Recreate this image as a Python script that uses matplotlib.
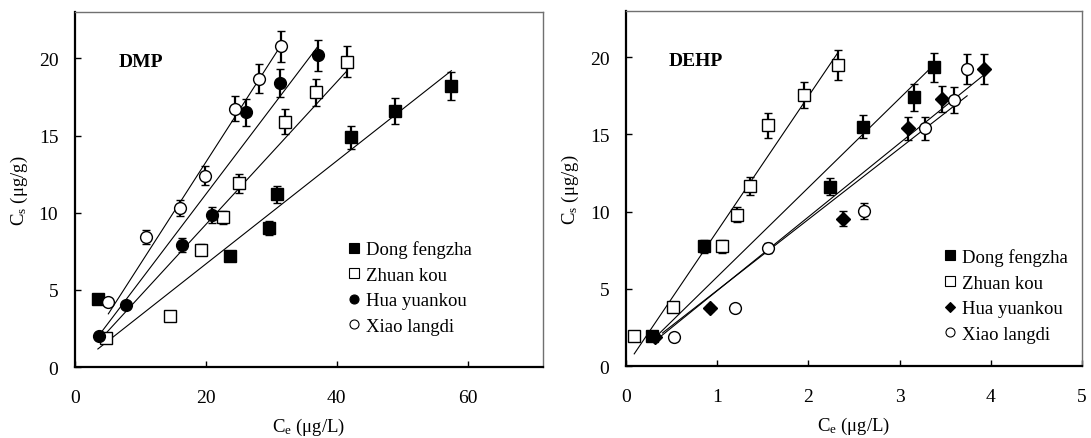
"""
Sorption isotherms of DMP and DEHP on sediments from four sites
"""
import matplotlib.pyplot as plt
from matplotlib.lines import Line2D

plt.rcParams['font.family'] = ['Liberation Serif', 'DejaVu Serif']
plt.rcParams['mathtext.fontset'] = 'custom'
plt.rcParams['mathtext.rm'] = 'Liberation Serif'

sites = ['Dong fengzha', 'Zhuan kou', 'Hua yuankou', 'Xiao langdi']

# DMP: Ce (ug/L), Cs (ug/g), error
dmp_dong_x = [3.5, 23.7, 29.7, 30.9, 42.2, 48.9, 57.5]
dmp_dong_y = [4.4, 7.2, 9.0, 11.2, 14.9, 16.6, 18.2]
dmp_dong_err = [0.2, 0.35, 0.45, 0.55, 0.75, 0.85, 0.9]

dmp_zhuan_x = [4.7, 14.5, 19.2, 22.6, 25.1, 32.1, 36.8, 41.5]
dmp_zhuan_y = [1.9, 3.3, 7.6, 9.7, 11.9, 15.9, 17.8, 19.8]
dmp_zhuan_err = [0.15, 0.15, 0.35, 0.4, 0.6, 0.8, 0.9, 1.0]

dmp_hua_x = [3.7, 7.8, 16.4, 20.9, 26.1, 31.3, 37.2]
dmp_hua_y = [2.0, 4.0, 7.9, 9.85, 16.5, 18.4, 20.2]
dmp_hua_err = [0.15, 0.2, 0.45, 0.5, 0.85, 0.9, 1.0]

dmp_xiao_x = [5.1, 10.9, 16.0, 19.85, 24.5, 28.1, 31.45]
dmp_xiao_y = [4.2, 8.4, 10.3, 12.4, 16.75, 18.7, 20.8]
dmp_xiao_err = [0.2, 0.45, 0.5, 0.6, 0.8, 0.95, 1.0]

# linear fits: slope, intercept, x start, x end
dmp_fit_slope = [0.334, 0.462, 0.56, 0.66]
dmp_fit_icpt = [0.0, 0.0, 0.0, 0.08]
dmp_fit_x0 = [3.5, 4.3, 3.5, 5.1]
dmp_fit_x1 = [57.5, 41.5, 37.0, 31.5]

# DEHP
dehp_dong_x = [0.28, 0.85, 2.24, 2.60, 3.16, 3.38]
dehp_dong_y = [1.93, 7.75, 11.6, 15.5, 17.4, 19.35]
dehp_dong_err = [0.15, 0.4, 0.55, 0.75, 0.85, 0.95]

dehp_zhuan_x = [0.09, 0.51, 1.05, 1.22, 1.36, 1.56, 1.95, 2.32]
dehp_zhuan_y = [1.93, 3.85, 7.75, 9.8, 11.67, 15.6, 17.55, 19.5]
dehp_zhuan_err = [0.1, 0.2, 0.4, 0.5, 0.6, 0.8, 0.85, 0.95]

dehp_hua_x = [0.32, 0.92, 2.38, 3.09, 3.46, 3.92]
dehp_hua_y = [1.9, 3.75, 9.55, 15.4, 17.3, 19.25]
dehp_hua_err = [0.1, 0.2, 0.5, 0.75, 0.85, 0.95]

dehp_xiao_x = [0.53, 1.19, 1.56, 2.61, 3.28, 3.6, 3.74]
dehp_xiao_y = [1.86, 3.77, 7.64, 10.05, 15.4, 17.25, 19.25]
dehp_xiao_err = [0.1, 0.15, 0.3, 0.5, 0.75, 0.85, 0.95]

dehp_fit_slope = [5.78, 8.74, 4.78, 4.6]
dehp_fit_icpt = [0.0, 0.0, 0.1, 0.3]
dehp_fit_x0 = [0.3, 0.09, 0.35, 0.4]
dehp_fit_x1 = [3.38, 2.32, 3.92, 3.74]


def draw_panel(ax, series, fits, markers, fills, title, xlim, xticks, leg_pos):
    slopes, icpts, x0s, x1s = fits
    for s, i, a, b in zip(slopes, icpts, x0s, x1s):
        ax.plot([a, b], [s * a + i, s * b + i], color='black', lw=0.8, zorder=2)
    for (x, y, e), m, f in zip(series, markers, fills):
        ms = 7 if m == 'D' else 8.5
        ax.errorbar(x, y, yerr=e, fmt=m, ms=ms, mfc=f, mec='black', mew=1.0,
                    ecolor='black', elinewidth=1.6, capsize=3, capthick=1.6, zorder=3)

    ax.set_xlim(*xlim)
    ax.set_ylim(0, 23)
    ax.set_xticks(xticks)
    ax.set_yticks([0, 5, 10, 15, 20])
    ax.tick_params(direction='in', length=4, width=1, labelsize=14, top=False, right=False)
    ax.tick_params(axis='x', pad=16)
    ax.tick_params(axis='y', pad=12)
    for side in ['left', 'bottom']:
        ax.spines[side].set_linewidth(1.6)
        ax.spines[side].set_color('black')
    for side in ['top', 'right']:
        ax.spines[side].set_linewidth(1.0)
        ax.spines[side].set_color('#707070')

    ax.set_xlabel(r'$\mathregular{C_e}$ (μg/L)', fontsize=13.5, labelpad=7)
    ax.set_ylabel(r'$\mathregular{C_s}$ (μg/g)', fontsize=13.5, labelpad=6)
    ax.text(0.094, 0.86, title, transform=ax.transAxes, fontsize=14,
            fontweight='bold', va='center', ha='left')

    handles = [Line2D([], [], ls='none', marker=m, ms=(5.5 if m == 'D' else 6.5),
                      mfc=f, mec='black', mew=0.8)
               for m, f in zip(markers, fills)]
    ax.legend(handles, sites, loc='center left', bbox_to_anchor=leg_pos, frameon=False,
              fontsize=13.5, handlelength=0.7, handletextpad=0.25, labelspacing=0.45,
              borderpad=0, borderaxespad=0)


fig = plt.figure(figsize=(10.91, 4.39), dpi=100)
ax1 = fig.add_axes([0.0687, 0.1617, 0.429, 0.8083])
ax2 = fig.add_axes([0.5738, 0.164, 0.418, 0.8087])

draw_panel(ax1,
           [(dmp_dong_x, dmp_dong_y, dmp_dong_err),
            (dmp_zhuan_x, dmp_zhuan_y, dmp_zhuan_err),
            (dmp_hua_x, dmp_hua_y, dmp_hua_err),
            (dmp_xiao_x, dmp_xiao_y, dmp_xiao_err)],
           (dmp_fit_slope, dmp_fit_icpt, dmp_fit_x0, dmp_fit_x1),
           ['s', 's', 'o', 'o'], ['black', 'white', 'black', 'white'],
           'DMP', (0, 71.5), [0, 20, 40, 60], (0.583, 0.224))

draw_panel(ax2,
           [(dehp_dong_x, dehp_dong_y, dehp_dong_err),
            (dehp_zhuan_x, dehp_zhuan_y, dehp_zhuan_err),
            (dehp_hua_x, dehp_hua_y, dehp_hua_err),
            (dehp_xiao_x, dehp_xiao_y, dehp_xiao_err)],
           (dehp_fit_slope, dehp_fit_icpt, dehp_fit_x0, dehp_fit_x1),
           ['s', 's', 'D', 'o'], ['black', 'white', 'black', 'white'],
           'DEHP', (0, 5), [0, 1, 2, 3, 4, 5], (0.697, 0.199))

fig.savefig('out.png', dpi=100)
